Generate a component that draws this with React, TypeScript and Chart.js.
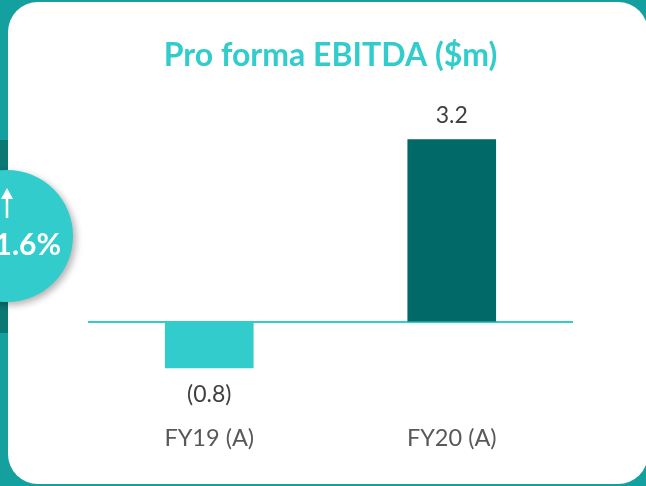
import React, { useEffect, useRef } from "react";
import { Chart, registerables } from "chart.js";

Chart.register(...registerables);

const categories = ["FY19 (A)", "FY20 (A)"];
const ebitda = [-0.8, 3.2];
const barColors = ["#33CCCC", "#016967"];
const chartTitle = "Pro forma EBITDA ($m)";
const badgeText = "11.6%";

const fmt = (v: number) => (v < 0 ? `(${Math.abs(v).toFixed(1)})` : v.toFixed(1));

const valueLabels = {
  id: "valueLabels",
  afterDatasetsDraw(chart: any) {
    const ctx = chart.ctx;
    const meta = chart.getDatasetMeta(0);
    ctx.save();
    ctx.font = "23px Lato";
    ctx.fillStyle = "#404040";
    ctx.textAlign = "center";
    ctx.textBaseline = "middle";
    meta.data.forEach((bar: any, i: number) => {
      const v = chart.data.datasets[0].data[i] as number;
      const y = v < 0 ? bar.y + 27 : bar.y - 24;
      ctx.fillText(fmt(v), bar.x, y);
    });
    ctx.restore();
  },
};

export default function App() {
  const ref = useRef<HTMLCanvasElement>(null);
  useEffect(() => {
    document.body.style.margin = "0";
    const chart = new Chart(ref.current!, {
      type: "bar",
      data: {
        labels: categories,
        datasets: [
          {
            data: ebitda,
            backgroundColor: barColors,
            barThickness: 88,
          },
        ],
      },
      options: {
        animation: false,
        responsive: false,
        layout: { padding: { left: 88, right: 73, top: 0, bottom: 24 } },
        plugins: {
          legend: { display: false },
          tooltip: { enabled: false },
          title: {
            display: true,
            text: chartTitle,
            color: "#33CCCC",
            font: { family: "Lato", size: 32, weight: "bold" },
            padding: { top: 36, bottom: 48 },
          },
        },
        scales: {
          x: {
            grid: { display: false },
            border: { display: false },
            ticks: {
              color: "#595959",
              font: { family: "Lato", size: 23.5 },
              padding: 9,
            },
          },
          y: {
            min: -1.5,
            max: 3.5,
            ticks: { display: false, stepSize: 0.5 },
            border: { display: false },
            grid: {
              drawTicks: false,
              lineWidth: 2,
              color: (c: any) => (c.tick && c.tick.value === 0 ? "#33CCCC" : "rgba(0,0,0,0)"),
            },
          },
        },
      },
      plugins: [valueLabels],
    });
    return () => chart.destroy();
  }, []);

  return (
    <div
      style={{
        position: "fixed",
        left: 0,
        top: 0,
        width: 646,
        height: 486,
        overflow: "hidden",
        background: "#14a09e",
      }}
    >
      <div style={{ position: "absolute", left: 0, top: 140, width: 8, height: 193, background: "#0b7873" }} />
      <div
        style={{
          position: "absolute",
          left: 8,
          top: 2,
          width: 640,
          height: 482,
          borderRadius: 30,
          background: "#ffffff",
        }}
      />
      <canvas ref={ref} width={646} height={486} style={{ position: "absolute", left: 0, top: 0 }} />
      <div
        style={{
          position: "absolute",
          left: 7 - 66,
          top: 236 - 66,
          width: 132,
          height: 132,
          borderRadius: "50%",
          background: "#33CCCC",
          boxShadow: "3px 3px 7px rgba(0,0,0,0.3)",
        }}
      />
      <svg style={{ position: "absolute", left: 0, top: 186 }} width={20} height={36}>
        <polygon points="7,2 1,13 13,13" fill="#ffffff" />
        <rect x={5.75} y={12} width={2.5} height={20} fill="#ffffff" />
      </svg>
      <div
        style={{
          position: "absolute",
          right: 646 - 61,
          top: 225,
          fontFamily: "Lato",
          fontWeight: "bold",
          fontSize: 30,
          lineHeight: "36px",
          color: "#ffffff",
          whiteSpace: "nowrap",
        }}
      >
        {badgeText}
      </div>
    </div>
  );
}
